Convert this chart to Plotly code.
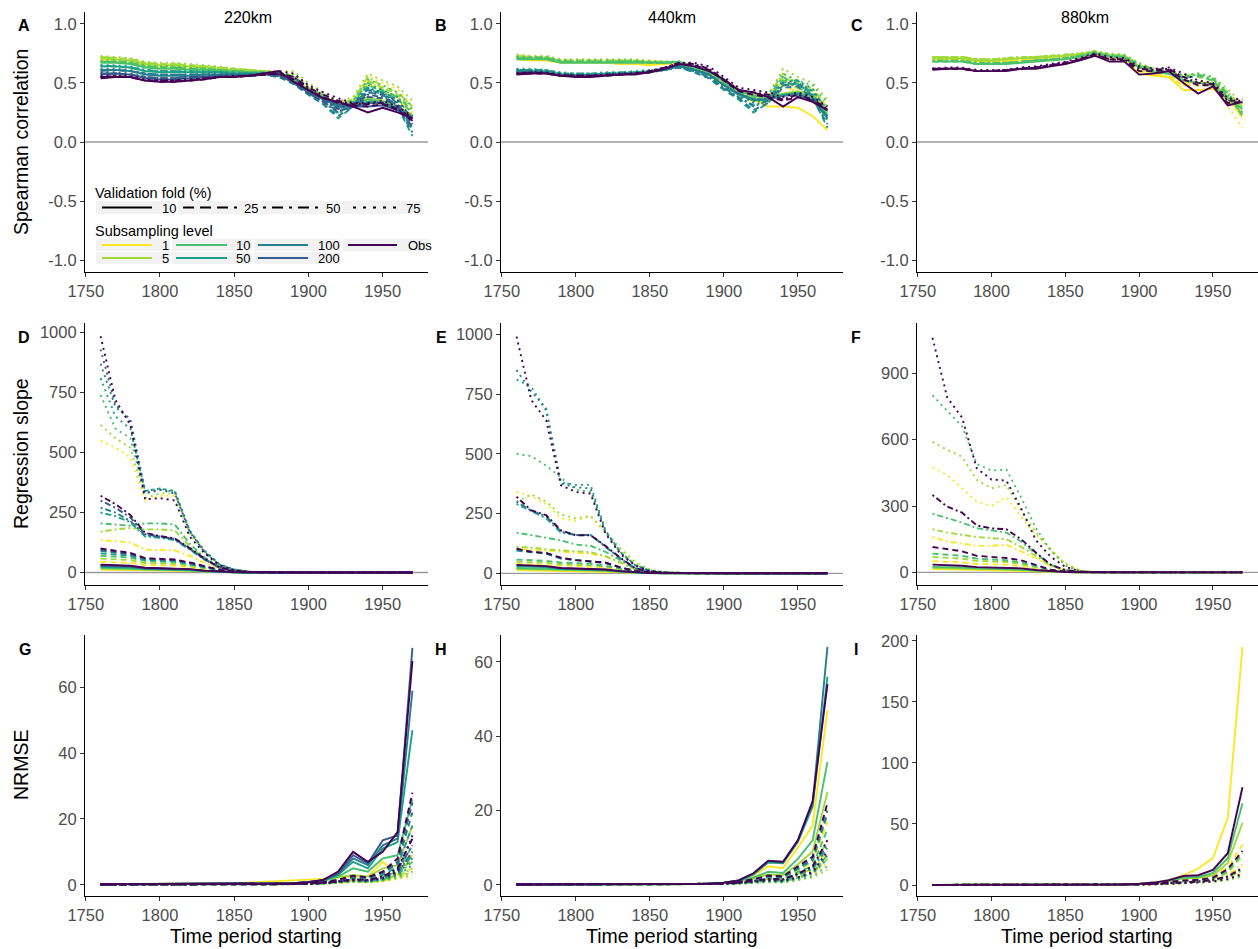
import plotly.graph_objects as go

W, H = 1258, 949

years = [1760, 1770, 1780, 1790, 1800, 1810, 1820, 1830, 1840, 1850, 1860,
         1870, 1880, 1890, 1900, 1910, 1920, 1930, 1940, 1950, 1960, 1970]

level_names = ["1", "5", "10", "50", "100", "200", "Obs"]
level_colors = {"1": "#FDE725", "5": "#9FDA3A", "10": "#4AC16D", "50": "#1FA187",
                "100": "#277F8E", "200": "#365C8D", "Obs": "#440154"}
fold_names = ["10", "25", "50", "75"]
fold_dash = {"10": "solid", "25": "6px,4px", "50": "2px,3px,6px,3px", "75": "2px,4px"}
fold_dash_key = {"10": "solid", "25": "11px,6px", "50": "3px,6px,11px,6px", "75": "3px,7px"}

# ---------------- Spearman correlation (each: folds 10, 25, 50, 75) ----------------
cor220_L1 = [
    [.69,.68,.67,.64,.63,.63,.62,.62,.61,.60,.59,.58,.57,.50,.43,.38,.31,.32,.36,.33,.28,.20],
    [.70,.69,.68,.65,.64,.64,.63,.63,.62,.61,.60,.58,.56,.52,.44,.37,.29,.33,.50,.42,.38,.22],
    [.70,.69,.68,.65,.64,.64,.63,.62,.61,.60,.59,.57,.56,.54,.45,.38,.31,.35,.52,.45,.35,.25],
    [.71,.70,.69,.66,.65,.65,.64,.63,.62,.61,.60,.58,.58,.58,.48,.40,.33,.36,.56,.50,.45,.30]]
cor220_L5 = [
    [.71,.70,.69,.66,.65,.65,.64,.63,.62,.61,.60,.60,.59,.52,.45,.39,.32,.33,.38,.35,.30,.23],
    [.72,.71,.70,.67,.66,.66,.65,.64,.63,.62,.61,.60,.58,.55,.46,.38,.30,.34,.52,.46,.40,.28],
    [.72,.71,.70,.67,.66,.66,.65,.64,.63,.62,.61,.60,.59,.56,.47,.39,.31,.36,.55,.47,.42,.30],
    [.73,.72,.71,.68,.67,.67,.66,.65,.64,.62,.61,.60,.60,.60,.50,.42,.34,.38,.58,.52,.47,.35]]
cor220_L10 = [
    [.67,.67,.66,.63,.62,.62,.61,.61,.60,.60,.59,.59,.58,.51,.44,.38,.31,.32,.36,.34,.29,.22],
    [.68,.68,.67,.64,.63,.63,.62,.62,.61,.60,.59,.58,.56,.53,.44,.37,.28,.33,.48,.43,.36,.25],
    [.68,.68,.67,.64,.63,.63,.62,.61,.61,.60,.59,.58,.57,.54,.45,.38,.30,.34,.50,.44,.38,.27],
    [.69,.69,.68,.65,.64,.64,.63,.62,.61,.60,.59,.58,.58,.57,.47,.40,.32,.35,.53,.48,.42,.30]]
cor220_L50 = [
    [.64,.64,.63,.60,.59,.59,.59,.59,.59,.58,.58,.58,.58,.50,.43,.37,.30,.31,.34,.33,.28,.21],
    [.64,.64,.63,.60,.60,.60,.59,.59,.59,.58,.58,.57,.55,.50,.40,.32,.20,.30,.45,.40,.30,.05],
    [.65,.64,.63,.61,.60,.60,.60,.59,.59,.58,.58,.57,.56,.52,.42,.34,.24,.32,.46,.42,.34,.10],
    [.65,.65,.64,.61,.60,.60,.60,.60,.59,.59,.58,.58,.57,.55,.45,.37,.28,.33,.48,.44,.38,.18]]
cor220_L100 = [
    [.60,.61,.60,.57,.56,.56,.56,.57,.57,.57,.57,.58,.58,.50,.42,.36,.30,.30,.33,.33,.28,.20],
    [.61,.61,.60,.58,.57,.57,.57,.57,.57,.57,.57,.57,.55,.49,.40,.32,.22,.30,.42,.40,.30,.08],
    [.61,.61,.60,.58,.57,.57,.57,.57,.57,.57,.57,.57,.56,.51,.41,.34,.25,.31,.44,.41,.33,.12],
    [.62,.62,.61,.58,.57,.57,.57,.58,.58,.58,.57,.57,.57,.54,.44,.36,.28,.32,.45,.42,.36,.18]]
cor220_L200 = [
    [.57,.58,.57,.54,.53,.53,.54,.55,.56,.56,.56,.57,.57,.50,.42,.37,.32,.30,.30,.31,.27,.20],
    [.58,.58,.57,.55,.54,.54,.55,.55,.56,.56,.56,.57,.56,.50,.41,.34,.26,.30,.38,.37,.30,.12],
    [.58,.58,.57,.55,.54,.54,.55,.55,.56,.56,.56,.57,.56,.52,.42,.35,.28,.31,.40,.38,.32,.15],
    [.59,.59,.58,.55,.54,.54,.55,.56,.56,.56,.56,.57,.57,.55,.45,.37,.30,.32,.42,.40,.35,.20]]
cor220_Obs = [
    [.54,.55,.55,.52,.51,.51,.52,.53,.55,.55,.56,.58,.60,.51,.44,.37,.34,.30,.25,.29,.25,.20],
    [.55,.55,.55,.52,.51,.51,.52,.53,.55,.55,.56,.57,.58,.53,.44,.38,.33,.31,.30,.32,.27,.18],
    [.55,.56,.55,.52,.52,.52,.52,.54,.55,.55,.56,.57,.58,.55,.46,.40,.35,.32,.32,.33,.28,.20],
    [.56,.56,.56,.53,.52,.52,.53,.54,.55,.56,.56,.58,.60,.58,.48,.42,.37,.33,.33,.35,.30,.22]]

cor440_L1 = [
    [.70,.69,.69,.67,.67,.67,.67,.66,.66,.65,.66,.67,.62,.58,.50,.42,.36,.30,.30,.29,.22,.10],
    [.71,.70,.70,.68,.68,.68,.67,.67,.67,.66,.67,.66,.61,.57,.48,.40,.34,.34,.48,.42,.35,.20],
    [.71,.70,.70,.68,.68,.68,.68,.67,.67,.66,.67,.66,.62,.58,.49,.41,.35,.35,.52,.45,.38,.24],
    [.72,.71,.71,.69,.69,.69,.68,.68,.68,.67,.67,.67,.63,.60,.52,.43,.37,.37,.55,.50,.45,.30]]
cor440_L5 = [
    [.72,.71,.71,.68,.68,.68,.68,.68,.68,.68,.67,.68,.63,.60,.52,.44,.40,.38,.41,.43,.40,.25],
    [.73,.72,.72,.69,.69,.69,.69,.69,.69,.68,.68,.67,.62,.58,.50,.42,.37,.38,.55,.48,.42,.27],
    [.73,.72,.72,.69,.69,.69,.69,.69,.69,.68,.68,.67,.63,.59,.51,.43,.38,.39,.58,.50,.45,.30],
    [.74,.73,.73,.70,.70,.70,.70,.70,.70,.69,.68,.68,.64,.61,.53,.45,.40,.40,.62,.55,.50,.36]]
cor440_L10 = [
    [.70,.70,.70,.67,.67,.67,.67,.67,.67,.67,.67,.68,.63,.60,.51,.43,.39,.38,.40,.42,.38,.23],
    [.71,.71,.71,.68,.68,.68,.68,.68,.68,.67,.67,.67,.62,.58,.49,.41,.36,.37,.52,.46,.40,.25],
    [.71,.71,.71,.68,.68,.68,.68,.68,.68,.67,.67,.67,.62,.59,.50,.42,.37,.38,.55,.48,.43,.28],
    [.72,.72,.72,.69,.69,.69,.69,.69,.69,.68,.68,.68,.64,.61,.52,.44,.39,.40,.58,.52,.48,.33]]
cor440_L50 = [
    [.60,.60,.60,.57,.57,.57,.58,.58,.59,.60,.62,.65,.61,.57,.48,.40,.35,.36,.40,.41,.36,.20],
    [.61,.61,.60,.58,.57,.57,.58,.58,.59,.60,.62,.64,.59,.54,.44,.36,.25,.33,.48,.50,.38,.12],
    [.61,.61,.61,.58,.58,.58,.58,.59,.59,.60,.62,.64,.60,.55,.46,.38,.30,.35,.50,.52,.40,.18],
    [.62,.62,.61,.59,.58,.58,.59,.59,.60,.61,.62,.65,.61,.57,.48,.40,.33,.37,.52,.52,.45,.25]]
cor440_L100 = [
    [.59,.59,.59,.56,.56,.56,.57,.57,.58,.59,.61,.64,.61,.57,.48,.41,.36,.36,.39,.40,.35,.22],
    [.60,.60,.59,.57,.56,.56,.57,.57,.58,.59,.61,.63,.59,.54,.45,.37,.27,.33,.46,.47,.37,.15],
    [.60,.60,.60,.57,.57,.57,.57,.58,.58,.59,.61,.63,.60,.55,.46,.38,.31,.35,.48,.49,.39,.20],
    [.61,.61,.60,.58,.57,.57,.58,.58,.59,.60,.61,.64,.61,.57,.48,.40,.34,.37,.50,.50,.43,.26]]
cor440_Obs = [
    [.57,.58,.58,.56,.55,.55,.56,.57,.57,.59,.62,.66,.64,.60,.53,.44,.42,.38,.30,.38,.34,.27],
    [.58,.58,.58,.56,.56,.56,.56,.57,.58,.59,.62,.66,.65,.61,.52,.43,.40,.38,.35,.38,.35,.27],
    [.58,.59,.58,.56,.56,.56,.57,.57,.58,.60,.63,.67,.66,.62,.53,.44,.42,.40,.36,.40,.36,.28],
    [.58,.59,.59,.57,.56,.56,.57,.58,.58,.60,.63,.67,.67,.64,.55,.46,.44,.42,.38,.42,.38,.30]]

cor880_L1 = [
    [.70,.70,.70,.68,.68,.68,.69,.69,.70,.71,.72,.74,.70,.70,.58,.56,.55,.44,.44,.45,.35,.25],
    [.70,.70,.70,.68,.68,.68,.69,.70,.70,.71,.72,.74,.71,.70,.60,.57,.55,.48,.48,.48,.35,.22],
    [.71,.71,.71,.69,.69,.69,.70,.70,.71,.72,.73,.75,.72,.71,.61,.58,.56,.50,.50,.50,.37,.20],
    [.71,.71,.71,.69,.69,.69,.70,.70,.71,.72,.73,.75,.72,.71,.62,.58,.55,.48,.52,.50,.30,.12]]
cor880_L5 = [
    [.71,.71,.71,.69,.69,.70,.71,.71,.72,.73,.74,.76,.73,.72,.64,.60,.58,.52,.50,.50,.38,.30],
    [.72,.72,.72,.70,.70,.70,.71,.72,.73,.73,.74,.76,.74,.73,.65,.61,.60,.55,.55,.52,.40,.28],
    [.72,.72,.72,.70,.70,.71,.72,.72,.73,.74,.75,.77,.74,.73,.66,.62,.60,.56,.57,.54,.42,.30],
    [.72,.72,.72,.70,.70,.71,.72,.72,.73,.74,.75,.77,.75,.74,.67,.62,.61,.57,.58,.55,.45,.32]]
cor880_L10 = [
    [.68,.68,.68,.66,.66,.66,.67,.68,.69,.70,.72,.75,.72,.71,.63,.59,.58,.52,.50,.48,.36,.28],
    [.68,.68,.68,.66,.66,.67,.68,.69,.70,.71,.72,.75,.73,.72,.64,.60,.58,.54,.56,.52,.38,.24],
    [.69,.69,.69,.67,.67,.67,.68,.69,.70,.71,.73,.76,.73,.72,.65,.61,.59,.55,.57,.53,.40,.22],
    [.69,.69,.69,.67,.67,.67,.68,.69,.70,.71,.73,.76,.74,.73,.66,.61,.60,.56,.58,.55,.42,.25]]
cor880_Obs = [
    [.61,.62,.62,.60,.60,.60,.62,.62,.64,.66,.69,.73,.68,.68,.57,.58,.60,.50,.41,.47,.31,.34],
    [.62,.62,.62,.60,.60,.61,.62,.63,.65,.67,.70,.74,.70,.69,.60,.60,.61,.53,.48,.48,.33,.34],
    [.62,.62,.62,.60,.60,.61,.62,.63,.65,.67,.70,.74,.70,.70,.62,.61,.62,.55,.50,.49,.35,.35],
    [.62,.63,.63,.61,.61,.61,.63,.64,.66,.68,.71,.75,.72,.71,.64,.62,.63,.58,.52,.50,.37,.36]]

# ---------------- Regression slope ----------------
slp220_L1 = [
    [12,11,10,8,8,7,6,3.5,1.5,.6,.2,.1,0,0,0,0,0,0,0,0,0,0],
    [45,43,40,32,30,29,22,14,6,2,.8,.3,.1,0,0,0,0,0,0,0,0,0],
    [135,130,125,95,95,92,70,40,18,6,2,1,.3,.1,0,0,0,0,0,0,0,0],
    [550,520,480,300,320,320,160,85,33,12,3,1,.4,.1,0,0,0,0,0,0,0,0]]
slp220_L5 = [
    [16,15,14,11,10,10,8,4.5,2,.8,.3,.1,0,0,0,0,0,0,0,0,0,0],
    [58,55,52,40,38,36,28,17,7,2.5,1,.4,.1,0,0,0,0,0,0,0,0,0],
    [170,180,185,180,180,175,110,58,24,8,2,1,.3,.1,0,0,0,0,0,0,0,0],
    [615,560,520,310,330,330,165,88,35,12,3,1,.4,.1,0,0,0,0,0,0,0,0]]
slp220_L10 = [
    [20,19,17,13,12,12,9,5,2.5,1,.4,.2,0,0,0,0,0,0,0,0,0,0],
    [70,66,62,48,46,44,33,20,8,3,1,.4,.1,0,0,0,0,0,0,0,0,0],
    [205,200,195,205,205,200,120,62,25,8,2,1,.3,.1,0,0,0,0,0,0,0,0],
    [740,600,560,330,345,340,170,90,35,12,3,1,.4,.1,0,0,0,0,0,0,0,0]]
slp220_L50 = [
    [24,23,21,15,14,14,11,6,3,1,.4,.2,0,0,0,0,0,0,0,0,0,0],
    [80,76,70,52,50,48,36,21,9,3,1,.4,.1,0,0,0,0,0,0,0,0,0],
    [250,235,210,150,145,135,96,54,20,6,2,1,.3,.1,0,0,0,0,0,0,0,0],
    [810,650,600,340,350,340,175,90,35,12,3,1,.4,.1,0,0,0,0,0,0,0,0]]
slp220_L100 = [
    [27,26,24,17,16,15,12,7,3,1,.4,.2,0,0,0,0,0,0,0,0,0,0],
    [90,84,75,56,53,50,39,23,10,3.5,1,.4,.1,0,0,0,0,0,0,0,0,0],
    [270,250,215,155,148,138,98,55,21,6,2,1,.3,.1,0,0,0,0,0,0,0,0],
    [870,690,640,340,350,335,175,88,33,12,3,1,.4,.1,0,0,0,0,0,0,0,0]]
slp220_L200 = [
    [30,29,26,19,18,17,13,7,3.5,1.2,.4,.2,0,0,0,0,0,0,0,0,0,0],
    [95,88,78,58,55,52,40,24,10,3.5,1,.4,.1,0,0,0,0,0,0,0,0,0],
    [300,270,230,160,150,140,100,56,21,6,2,1,.3,.1,0,0,0,0,0,0,0,0],
    [930,700,630,330,345,330,170,85,32,11,3,1,.4,.1,0,0,0,0,0,0,0,0]]
slp220_Obs = [
    [33,32,28,20,19,18,14,8,4,1.5,.5,.2,0,0,0,0,0,0,0,0,0,0],
    [100,92,82,60,57,54,42,25,11,4,1,.4,.1,0,0,0,0,0,0,0,0,0],
    [320,285,240,165,152,142,102,58,22,6,2,1,.3,.1,0,0,0,0,0,0,0,0],
    [985,720,615,305,310,300,150,80,30,10,3,1,.4,.1,0,0,0,0,0,0,0,0]]

slp440_L1 = [
    [14,13,12,10,10,9,7,4.5,2,.7,.2,.1,0,0,0,0,0,0,0,0,0,0],
    [40,38,36,31,29,28,23,14,6,2,.8,.3,.1,0,0,0,0,0,0,0,0,0],
    [100,100,95,90,88,82,70,45,18,6,2,1,.3,.1,0,0,0,0,0,0,0,0],
    [340,320,290,230,220,240,170,100,45,15,4,1,.4,.1,0,0,0,0,0,0,0,0]]
slp440_L5 = [
    [18,17,16,13,12,12,9,5.5,2.5,.9,.3,.1,0,0,0,0,0,0,0,0,0,0],
    [48,46,44,38,36,34,28,17,7,2.5,1,.4,.1,0,0,0,0,0,0,0,0,0],
    [110,108,100,95,90,88,72,46,18,6,2,1,.3,.1,0,0,0,0,0,0,0,0],
    [300,330,300,245,230,240,175,105,48,15,4,1,.4,.1,0,0,0,0,0,0,0,0]]
slp440_L10 = [
    [22,21,20,16,15,14,11,6.5,3,1,.4,.2,0,0,0,0,0,0,0,0,0,0],
    [57,55,52,45,42,40,32,20,8,3,1,.4,.1,0,0,0,0,0,0,0,0,0],
    [170,160,150,138,120,115,90,55,20,6,2,1,.3,.1,0,0,0,0,0,0,0,0],
    [500,490,450,400,350,340,175,88,35,12,3,1,.4,.1,0,0,0,0,0,0,0,0]]
slp440_L50 = [
    [30,28,26,19,18,17,14,8,3.5,1.2,.4,.2,0,0,0,0,0,0,0,0,0,0],
    [95,88,82,62,54,49,43,24,10,3,1,.4,.1,0,0,0,0,0,0,0,0,0],
    [290,260,230,170,160,160,110,62,21,6,2,1,.3,.1,0,0,0,0,0,0,0,0],
    [810,780,680,380,370,370,180,90,35,12,3,1,.4,.1,0,0,0,0,0,0,0,0]]
slp440_L100 = [
    [32,30,28,20,19,18,15,8.5,3.7,1.3,.4,.2,0,0,0,0,0,0,0,0,0,0],
    [98,89,84,63,55,50,44,25,10,3,1,.4,.1,0,0,0,0,0,0,0,0,0],
    [300,262,238,175,160,160,112,63,21,6,2,1,.3,.1,0,0,0,0,0,0,0,0],
    [850,760,690,375,360,355,175,88,34,11,3,1,.4,.1,0,0,0,0,0,0,0,0]]
slp440_Obs = [
    [35,33,30,22,20,19,16,9,4,1.5,.5,.2,0,0,0,0,0,0,0,0,0,0],
    [103,90,85,65,55,50,45,25,10,3,1,.4,.1,0,0,0,0,0,0,0,0,0],
    [320,263,243,180,159,159,115,65,22,6,2,1,.3,.1,0,0,0,0,0,0,0,0],
    [990,724,640,368,340,333,166,82,33,10,3,1,.4,.1,0,0,0,0,0,0,0,0]]

slp880_L1 = [
    [15,14,13,11,10,10,8,5,2.2,.8,.3,.1,0,0,0,0,0,0,0,0,0,0],
    [50,48,45,38,36,35,28,18,7,2.5,.8,.3,.1,0,0,0,0,0,0,0,0,0],
    [160,140,130,120,120,125,95,65,28,9,3,1,.3,.1,0,0,0,0,0,0,0,0],
    [475,440,380,320,300,340,250,170,108,40,8,2,.5,.1,0,0,0,0,0,0,0,0]]
slp880_L5 = [
    [20,19,18,15,14,13,11,6.5,3,1,.3,.1,0,0,0,0,0,0,0,0,0,0],
    [70,66,62,52,49,47,38,24,9,3,1,.4,.1,0,0,0,0,0,0,0,0,0],
    [195,180,170,160,155,150,115,75,30,10,3,1,.3,.1,0,0,0,0,0,0,0,0],
    [590,553,523,418,380,395,280,180,100,40,8,2,.5,.1,0,0,0,0,0,0,0,0]]
slp880_L10 = [
    [25,24,22,18,17,16,13,8,3.5,1.3,.4,.2,0,0,0,0,0,0,0,0,0,0],
    [85,80,75,62,58,55,45,28,10,3.5,1,.4,.1,0,0,0,0,0,0,0,0,0],
    [265,245,225,200,190,180,140,85,35,10,3,1,.3,.1,0,0,0,0,0,0,0,0],
    [800,730,660,490,460,465,340,200,100,30,6,1,.4,.1,0,0,0,0,0,0,0,0]]
slp880_Obs = [
    [35,33,30,24,22,21,18,11,5,1.8,.6,.2,0,0,0,0,0,0,0,0,0,0],
    [115,105,95,75,70,65,55,35,12,4,1,.4,.1,0,0,0,0,0,0,0,0,0],
    [350,297,270,212,199,195,150,90,35,10,3,1,.3,.1,0,0,0,0,0,0,0,0],
    [1060,790,700,470,420,415,290,146,71,25,5,1,.4,.1,0,0,0,0,0,0,0,0]]

# ---------------- NRMSE ----------------
nrm220_L1 = [
    [.2,.2,.2,.2,.2,.2,.2,.3,.4,.5,.7,.9,1.2,1.5,1.6,1.8,2.2,2.5,2.5,7,3,9],
    [.1,.1,.1,.1,.1,.1,.1,.1,.1,.1,.1,.1,.1,.2,.3,.5,.8,1.2,1,1.5,2.5,5],
    [.1,.1,.1,.1,.1,.1,.1,.1,.1,.1,.1,.1,.1,.1,.2,.4,.6,.9,.8,1.2,2,4],
    [.1,.1,.1,.1,.1,.1,.1,.1,.1,.1,.1,.1,.1,.1,.2,.3,.5,.8,.7,1,1.8,2.5]]
nrm220_L5 = [
    [.2,.2,.2,.2,.2,.2,.2,.2,.2,.2,.3,.3,.4,.5,.8,1.2,2.3,3,2.5,5,6,18],
    [.1,.1,.1,.1,.1,.1,.1,.1,.1,.1,.1,.1,.1,.2,.3,.5,.9,1.3,1.1,1.8,3,8],
    [.1,.1,.1,.1,.1,.1,.1,.1,.1,.1,.1,.1,.1,.1,.2,.4,.7,1,.9,1.4,2.5,5],
    [.1,.1,.1,.1,.1,.1,.1,.1,.1,.1,.1,.1,.1,.1,.2,.3,.6,.9,.8,1.2,2,3]]
nrm220_L10 = [
    [.2,.2,.2,.2,.2,.2,.2,.2,.2,.2,.3,.3,.4,.5,.8,1.2,2.5,5,4,8,9,26],
    [.1,.1,.1,.1,.1,.1,.1,.1,.1,.1,.1,.1,.1,.2,.3,.6,1,1.8,1.5,2.5,4,12],
    [.1,.1,.1,.1,.1,.1,.1,.1,.1,.1,.1,.1,.1,.1,.3,.5,.8,1.2,1,1.7,3,7],
    [.1,.1,.1,.1,.1,.1,.1,.1,.1,.1,.1,.1,.1,.1,.2,.4,.6,1,.9,1.3,2.3,4]]
nrm220_L50 = [
    [.2,.2,.2,.2,.2,.2,.2,.2,.2,.2,.3,.3,.4,.5,.8,1.3,3,7,5,11,13,47],
    [.1,.1,.1,.1,.1,.1,.1,.1,.1,.1,.1,.1,.1,.2,.4,.7,1.2,2.2,1.8,3,5.5,18],
    [.1,.1,.1,.1,.1,.1,.1,.1,.1,.1,.1,.1,.1,.1,.3,.5,.9,1.4,1.2,2,3.5,9],
    [.1,.1,.1,.1,.1,.1,.1,.1,.1,.1,.1,.1,.1,.1,.2,.4,.7,1.1,1,1.5,2.8,6]]
nrm220_L100 = [
    [.2,.2,.2,.2,.2,.2,.2,.2,.2,.2,.3,.3,.4,.5,.8,1.4,3.2,8,6,12,14,59],
    [.1,.1,.1,.1,.1,.1,.1,.1,.1,.1,.1,.1,.1,.2,.4,.8,1.4,2.5,2,3.5,6.5,22],
    [.1,.1,.1,.1,.1,.1,.1,.1,.1,.1,.1,.1,.1,.1,.3,.6,1,1.5,1.3,2.2,4,10],
    [.1,.1,.1,.1,.1,.1,.1,.1,.1,.1,.1,.1,.1,.1,.3,.5,.8,1.2,1.1,1.7,3.2,8]]
nrm220_L200 = [
    [.2,.2,.2,.2,.2,.2,.2,.2,.2,.2,.3,.3,.4,.5,.8,1.5,3.5,9,6.5,13.5,15,72],
    [.1,.1,.1,.1,.1,.1,.1,.1,.1,.1,.1,.1,.1,.2,.4,.8,1.5,2.6,2.2,3.8,7,25],
    [.1,.1,.1,.1,.1,.1,.1,.1,.1,.1,.1,.1,.1,.1,.3,.6,1,1.6,1.4,2.4,4.5,12],
    [.1,.1,.1,.1,.1,.1,.1,.1,.1,.1,.1,.1,.1,.1,.3,.5,.8,1.3,1.2,1.9,3.6,10]]
nrm220_Obs = [
    [.2,.2,.2,.2,.2,.2,.2,.2,.2,.2,.3,.3,.4,.5,.8,1.5,4,10,7,10,16,68],
    [.1,.1,.1,.1,.1,.1,.1,.1,.1,.1,.1,.1,.1,.2,.4,.8,1.5,2.8,2.3,4,8,28],
    [.1,.1,.1,.1,.1,.1,.1,.1,.1,.1,.1,.1,.1,.1,.3,.6,1,1.7,1.5,2.5,5,14],
    [.1,.1,.1,.1,.1,.1,.1,.1,.1,.1,.1,.1,.1,.1,.3,.5,.9,1.4,1.3,2,4,15]]

nrm440_L1 = [
    [.1,.1,.1,.1,.1,.1,.1,.1,.1,.1,.1,.1,.1,.3,.6,1.1,2.5,5,4.5,10,16,47],
    [.1,.1,.1,.1,.1,.1,.1,.1,.1,.1,.1,.1,.1,.2,.3,.6,1.1,2,1.8,4,6,17],
    [.1,.1,.1,.1,.1,.1,.1,.1,.1,.1,.1,.1,.1,.1,.2,.4,.8,1.2,1.1,2.2,3.8,9],
    [.1,.1,.1,.1,.1,.1,.1,.1,.1,.1,.1,.1,.1,.1,.2,.3,.6,.9,.8,1.5,2.6,6]]
nrm440_L5 = [
    [.1,.1,.1,.1,.1,.1,.1,.1,.1,.1,.1,.1,.1,.2,.4,.9,1.7,2.8,2.6,5.5,9,25],
    [.1,.1,.1,.1,.1,.1,.1,.1,.1,.1,.1,.1,.1,.2,.3,.5,.9,1.5,1.4,3,4.2,12],
    [.1,.1,.1,.1,.1,.1,.1,.1,.1,.1,.1,.1,.1,.1,.2,.4,.6,1,.9,1.8,3,7],
    [.1,.1,.1,.1,.1,.1,.1,.1,.1,.1,.1,.1,.1,.1,.2,.3,.5,.7,.6,1.2,2,4]]
nrm440_L10 = [
    [.1,.1,.1,.1,.1,.1,.1,.1,.1,.1,.1,.1,.1,.2,.5,1,2,3.5,3.2,7,12,33],
    [.1,.1,.1,.1,.1,.1,.1,.1,.1,.1,.1,.1,.1,.2,.3,.6,1,1.8,1.6,3.5,5,15],
    [.1,.1,.1,.1,.1,.1,.1,.1,.1,.1,.1,.1,.1,.1,.2,.4,.7,1.1,1,2,3.3,8],
    [.1,.1,.1,.1,.1,.1,.1,.1,.1,.1,.1,.1,.1,.1,.2,.3,.5,.8,.7,1.3,2.3,5]]
nrm440_L50 = [
    [.1,.1,.1,.1,.1,.1,.1,.1,.1,.1,.1,.1,.1,.3,.6,1.1,2.8,6,5.8,11.5,21,56],
    [.1,.1,.1,.1,.1,.1,.1,.1,.1,.1,.1,.1,.1,.2,.4,.7,1.3,2.2,2,4.3,6.5,19],
    [.1,.1,.1,.1,.1,.1,.1,.1,.1,.1,.1,.1,.1,.2,.3,.5,.9,1.4,1.3,2.6,4.3,10],
    [.1,.1,.1,.1,.1,.1,.1,.1,.1,.1,.1,.1,.1,.1,.2,.4,.7,1,.9,1.7,3,7]]
nrm440_L100 = [
    [.1,.1,.1,.1,.1,.1,.1,.1,.1,.1,.1,.1,.1,.3,.6,1.2,3,6.3,6,12,22,64],
    [.1,.1,.1,.1,.1,.1,.1,.1,.1,.1,.1,.1,.1,.2,.4,.7,1.4,2.3,2.1,4.5,7,20],
    [.1,.1,.1,.1,.1,.1,.1,.1,.1,.1,.1,.1,.1,.2,.3,.5,.9,1.5,1.4,2.8,4.6,11],
    [.1,.1,.1,.1,.1,.1,.1,.1,.1,.1,.1,.1,.1,.2,.3,.5,.8,1.1,1,1.9,3.2,8]]
nrm440_Obs = [
    [.1,.1,.1,.1,.1,.1,.1,.1,.1,.1,.1,.1,.1,.3,.6,1.2,3.1,6.5,6.2,12,22.5,54],
    [.1,.1,.1,.1,.1,.1,.1,.1,.1,.1,.1,.1,.1,.2,.4,.8,1.5,2.5,2.3,5,7.6,22],
    [.1,.1,.1,.1,.1,.1,.1,.1,.1,.1,.1,.1,.1,.2,.3,.6,1,1.6,1.5,3,5,12],
    [.1,.1,.1,.1,.1,.1,.1,.1,.1,.1,.1,.1,.1,.2,.3,.5,.8,1.2,1.1,2,3.5,9]]

nrm880_L1 = [
    [.1,.1,.1,.1,.1,.1,.1,.1,.1,.1,.1,.1,.1,.5,1,2,4,8,13.5,22,55,195],
    [.1,.1,.1,.1,.1,.1,.1,.1,.1,.1,.1,.1,.1,.3,.6,1.2,2.4,4,5.5,8,14,33],
    [.1,.1,.1,.1,.1,.1,.1,.1,.1,.1,.1,.1,.1,.2,.4,.8,1.5,2.5,3,4.5,8,17],
    [.1,.1,.1,.1,.1,.1,.1,.1,.1,.1,.1,.1,.1,.1,.3,.6,1,1.8,2,3,5,10]]
nrm880_L5 = [
    [.1,.1,.1,.1,.1,.1,.1,.1,.1,.1,.1,.1,.1,.3,.8,1.5,3,5.5,6,8,18,51],
    [.1,.1,.1,.1,.1,.1,.1,.1,.1,.1,.1,.1,.1,.2,.5,1,2,3,3.5,5,10,24],
    [.1,.1,.1,.1,.1,.1,.1,.1,.1,.1,.1,.1,.1,.2,.3,.7,1.2,2,2.3,3.5,6,12],
    [.1,.1,.1,.1,.1,.1,.1,.1,.1,.1,.1,.1,.1,.1,.2,.5,.8,1.3,1.6,2.4,4,7]]
nrm880_L10 = [
    [.1,.1,.1,.1,.1,.1,.1,.1,.1,.1,.1,.1,.1,.3,.8,1.6,3.2,6,6.5,10,22,67],
    [.1,.1,.1,.1,.1,.1,.1,.1,.1,.1,.1,.1,.1,.2,.5,1,2,3.2,3.8,5.5,11,26],
    [.1,.1,.1,.1,.1,.1,.1,.1,.1,.1,.1,.1,.1,.2,.4,.7,1.3,2.1,2.5,3.8,6.5,13],
    [.1,.1,.1,.1,.1,.1,.1,.1,.1,.1,.1,.1,.1,.1,.3,.5,.9,1.5,1.8,2.6,4.5,8]]
nrm880_Obs = [
    [.1,.1,.1,.1,.1,.1,.1,.1,.1,.1,.1,.1,.1,.4,1,2,4,7.4,8,12.3,26,80],
    [.1,.1,.1,.1,.1,.1,.1,.1,.1,.1,.1,.1,.1,.3,.6,1.2,2.4,3.8,4.2,6,13,28],
    [.1,.1,.1,.1,.1,.1,.1,.1,.1,.1,.1,.1,.1,.2,.4,.8,1.5,2.5,2.8,4.2,7,14],
    [.1,.1,.1,.1,.1,.1,.1,.1,.1,.1,.1,.1,.1,.1,.3,.6,1,1.7,2,3,5,9]]

# ---------------- panel definitions ----------------
panels = [
    ("A", {"1": cor220_L1, "5": cor220_L5, "10": cor220_L10, "50": cor220_L50,
           "100": cor220_L100, "200": cor220_L200, "Obs": cor220_Obs}),
    ("B", {"1": cor440_L1, "5": cor440_L5, "10": cor440_L10, "50": cor440_L50,
           "100": cor440_L100, "Obs": cor440_Obs}),
    ("C", {"1": cor880_L1, "5": cor880_L5, "10": cor880_L10, "Obs": cor880_Obs}),
    ("D", {"1": slp220_L1, "5": slp220_L5, "10": slp220_L10, "50": slp220_L50,
           "100": slp220_L100, "200": slp220_L200, "Obs": slp220_Obs}),
    ("E", {"1": slp440_L1, "5": slp440_L5, "10": slp440_L10, "50": slp440_L50,
           "100": slp440_L100, "Obs": slp440_Obs}),
    ("F", {"1": slp880_L1, "5": slp880_L5, "10": slp880_L10, "Obs": slp880_Obs}),
    ("G", {"1": nrm220_L1, "5": nrm220_L5, "10": nrm220_L10, "50": nrm220_L50,
           "100": nrm220_L100, "200": nrm220_L200, "Obs": nrm220_Obs}),
    ("H", {"1": nrm440_L1, "5": nrm440_L5, "10": nrm440_L10, "50": nrm440_L50,
           "100": nrm440_L100, "Obs": nrm440_Obs}),
    ("I", {"1": nrm880_L1, "5": nrm880_L5, "10": nrm880_L10, "Obs": nrm880_Obs}),
]

corr_ticks = [-1, -0.5, 0, 0.5, 1]
corr_ticktext = ["-1.0", "-0.5", "0.0", "0.5", "1.0"]
y_axes = [
    dict(range=[-1.1, 1.1], tickvals=corr_ticks, ticktext=corr_ticktext),
    dict(range=[-1.1, 1.1], tickvals=corr_ticks, ticktext=corr_ticktext),
    dict(range=[-1.1, 1.1], tickvals=corr_ticks, ticktext=corr_ticktext),
    dict(range=[-52, 1040], tickvals=[0, 250, 500, 750, 1000]),
    dict(range=[-49, 1047], tickvals=[0, 250, 500, 750, 1000]),
    dict(range=[-57, 1127], tickvals=[0, 300, 600, 900]),
    dict(range=[-3.4, 75.9], tickvals=[0, 20, 40, 60]),
    dict(range=[-3.0, 67.2], tickvals=[0, 20, 40, 60]),
    dict(range=[-9.0, 204.7], tickvals=[0, 50, 100, 150, 200]),
]

FONT = "Liberation Sans, Arial, Helvetica, sans-serif"
col_px = [(85, 428), (501, 843), (917, 1258)]
row_px = [(12, 272), (323, 585), (635, 896)]


def fx(p):
    return p / W


def fy(p):
    return 1 - p / H


fig = go.Figure()
layout = dict(width=W, height=H,
              margin=dict(l=0, r=0, t=0, b=0, pad=0, autoexpand=False),
              paper_bgcolor="white", plot_bgcolor="white", showlegend=False,
              font=dict(family=FONT, color="black"))
shapes = []
annotations = []

for k, (letter, data) in enumerate(panels):
    r, c = divmod(k, 3)
    n = k + 1
    xs = "x" if n == 1 else "x%d" % n
    ys = "y" if n == 1 else "y%d" % n
    xkey = "xaxis" if n == 1 else "xaxis%d" % n
    ykey = "yaxis" if n == 1 else "yaxis%d" % n
    x0, x1 = col_px[c]
    y0, y1 = row_px[r]
    common = dict(showline=True, linecolor="black", linewidth=1.1, showgrid=False,
                  zeroline=False, ticks="outside", ticklen=4, tickwidth=1.1,
                  tickcolor="#333333", automargin=False,
                  tickfont=dict(family=FONT, size=16.5, color="#4D4D4D"))
    layout[xkey] = dict(domain=[fx(x0), fx(x1)], anchor=ys, range=[1749.5, 1980.5],
                        tickvals=[1750, 1800, 1850, 1900, 1950], **common)
    layout[ykey] = dict(domain=[fy(y1), fy(y0)], anchor=xs, **y_axes[k], **common)

    if r < 2:
        shapes.append(dict(type="line", xref=xs + " domain", yref=ys, x0=0, x1=1,
                           y0=0, y1=0, line=dict(color="#9A9A9A", width=1.3), layer="below"))

    for lv in level_names:
        if lv not in data:
            continue
        for fi, fd in enumerate(fold_names):
            fig.add_trace(go.Scatter(
                x=years, y=data[lv][fi], mode="lines", xaxis=xs, yaxis=ys,
                line=dict(color=level_colors[lv], width=1.9, dash=fold_dash[fd]),
                showlegend=False, hoverinfo="skip"))

# panel letters
letter_pos = {"A": (24, 25), "B": (441, 25), "C": (857, 25),
              "D": (24, 337), "E": (441, 337), "F": (856, 337),
              "G": (25, 649), "H": (441, 649), "I": (856, 649)}
for L, (px, py) in letter_pos.items():
    annotations.append(dict(text="<b>%s</b>" % L, x=fx(px), y=fy(py), xref="paper", yref="paper",
                            showarrow=False, xanchor="center", yanchor="middle",
                            font=dict(family=FONT, size=16, color="black")))

# column titles
for txt, px in [("220km", 248), ("440km", 672), ("880km", 1085)]:
    annotations.append(dict(text=txt, x=fx(px), y=fy(18), xref="paper", yref="paper",
                            showarrow=False, xanchor="center", yanchor="middle",
                            font=dict(family=FONT, size=16, color="black")))

# y titles
for txt, py in [("Spearman correlation", 142), ("Regression slope", 454), ("NRMSE", 765)]:
    annotations.append(dict(text=txt, x=fx(21), y=fy(py), xref="paper", yref="paper",
                            showarrow=False, xanchor="center", yanchor="middle", textangle=-90,
                            font=dict(family=FONT, size=19.5, color="black")))

# x titles
for px in [256, 672, 1087]:
    annotations.append(dict(text="Time period starting", x=fx(px), y=fy(936), xref="paper",
                            yref="paper", showarrow=False, xanchor="center", yanchor="middle",
                            font=dict(family=FONT, size=19.5, color="black")))

# ---------------- legend (drawn inside panel A) ----------------
KEYBG = "#F2F2F2"


def rect(xa, ya, xb, yb):
    shapes.append(dict(type="rect", xref="paper", yref="paper", x0=fx(xa), x1=fx(xb),
                       y0=fy(yb), y1=fy(ya), fillcolor=KEYBG, line=dict(width=0), layer="above"))


def keyline(xa, xb, yv, color, dash, width=2.2):
    shapes.append(dict(type="line", xref="paper", yref="paper", x0=fx(xa), x1=fx(xb),
                       y0=fy(yv), y1=fy(yv), line=dict(color=color, width=width, dash=dash),
                       layer="above"))


def label(txt, xv, yv, size=13):
    annotations.append(dict(text=txt, x=fx(xv), y=fy(yv), xref="paper", yref="paper",
                            showarrow=False, xanchor="left", yanchor="middle",
                            font=dict(family=FONT, size=size, color="black")))


label("Validation fold (%)", 93, 193, size=14.5)
fold_keys = [("10", 96, 175, 102, 152, 160), ("25", 178, 258, 183, 237, 242),
             ("50", 260, 340, 263, 320, 324), ("75", 342, 422, 353, 402, 404)]
for fd, ra, rb, la, lb, tx in fold_keys:
    rect(ra, 201, rb, 214)
    keyline(la, lb, 207.5, "black", fold_dash_key[fd])
    label(fd, tx, 208)

label("Subsampling level", 93, 231, size=14.5)
level_keys = [("1", 0, 0), ("10", 0, 1), ("100", 0, 2), ("Obs", 0, 3),
              ("5", 1, 0), ("50", 1, 1), ("200", 1, 2)]
cols = [(96, 170, 102, 152, 160), (172, 252, 176, 227, 234),
        (254, 340, 258, 308, 316), (343, 430, 348, 397, 406)]
rows = [(239, 251, 245), (252, 264, 258)]
for lv, ri, ci in level_keys:
    ra, rb, la, lb, tx = cols[ci]
    ya, yb, yc = rows[ri]
    rect(ra, ya, rb, yb)
    keyline(la, lb, yc, level_colors[lv], "solid")
    label(lv, tx, yc + 0.5)

layout["shapes"] = shapes
layout["annotations"] = annotations
fig.update_layout(**layout)

fig.write_html("out.html", config={"displayModeBar": False},
               post_script="document.body.style.margin='0';")
